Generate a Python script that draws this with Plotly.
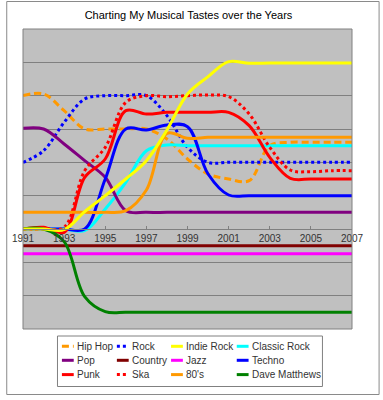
import plotly.graph_objects as go

# ---------------- data ----------------
years = [1991, 1992, 1993, 1994, 1995, 1996, 1997, 1998, 1999,
         2000, 2001, 2002, 2003, 2004, 2005, 2006, 2007]
tick_years = [1991, 1993, 1995, 1997, 1999, 2001, 2003, 2005, 2007]
tick_labels = ["1991", "1993", "1995", "1997", "1999", "2001", "2003", "2005", "2007"]

hip_hop = [4.0, 4.05, 3.55, 3.0, 3.0, 3.0, 3.0, 2.7, 2.1, 1.65, 1.5, 1.45, 2.5, 2.6, 2.6, 2.6, 2.6]
rock = [2.0, 2.35, 3.2, 3.9, 4.0, 4.0, 4.0, 3.4, 2.45, 2.0, 2.0, 2.0, 2.0, 2.0, 2.0, 2.0, 2.0]
indie_rock = [0.0, 0.0, -0.02, 0.52, 1.0, 1.5, 2.05, 2.97, 4.05, 4.57, 5.02, 4.97, 4.98, 4.98, 4.98, 4.98, 4.98]
classic_rock = [0.0, 0.0, 0.0, -0.05, 0.6, 1.4, 2.35, 2.52, 2.5, 2.5, 2.5, 2.5, 2.5, 2.5, 2.5, 2.5, 2.5]
pop = [3.02, 3.0, 2.55, 2.05, 1.55, 0.55, 0.5, 0.5, 0.5, 0.5, 0.5, 0.5, 0.5, 0.5, 0.5, 0.5, 0.5]
country = [-0.5, -0.5, -0.5, -0.5, -0.5, -0.5, -0.5, -0.5, -0.5, -0.5, -0.5, -0.5, -0.5, -0.5, -0.5, -0.5, -0.5]
jazz = [-0.74, -0.74, -0.74, -0.74, -0.74, -0.74, -0.74, -0.74, -0.74, -0.74, -0.74, -0.74, -0.74, -0.74, -0.74, -0.74, -0.74]
techno = [0.0, 0.0, 0.0, 0.0, 1.5, 3.0, 2.97, 3.12, 3.07, 1.65, 1.02, 1.0, 1.0, 1.0, 1.0, 1.0, 1.0]
punk = [0.0, 0.05, -0.1, 1.55, 2.1, 3.55, 3.45, 3.5, 3.5, 3.5, 3.5, 3.1, 2.15, 1.52, 1.5, 1.5, 1.5]
ska = [0.0, 0.0, 0.05, 1.75, 2.45, 3.8, 4.0, 3.97, 4.0, 4.02, 3.97, 3.45, 2.45, 1.77, 1.72, 1.75, 1.75]
eighties = [0.5, 0.5, 0.5, 0.5, 0.5, 0.55, 1.17, 2.87, 2.72, 2.75, 2.75, 2.75, 2.75, 2.75, 2.75, 2.75, 2.75]
dave_matthews = [0.0, 0.0, -0.38, -2.03, -2.48, -2.5, -2.5, -2.5, -2.5, -2.5, -2.5, -2.5, -2.5, -2.5, -2.5, -2.5, -2.5]

series_names = ["Hip Hop", "Rock", "Indie Rock", "Classic Rock",
                "Pop", "Country", "Jazz", "Techno",
                "Punk", "Ska", "80's", "Dave Matthews"]
series_values = [hip_hop, rock, indie_rock, classic_rock,
                 pop, country, jazz, techno,
                 punk, ska, eighties, dave_matthews]

# ---------------- styles ----------------
colors = ["#FF9900", "#0000FF", "#FFFF00", "#00FFFF",
          "#800080", "#800000", "#FF00FF", "#0000FF",
          "#FF0000", "#FF0000", "#FF9900", "#008000"]
dashes = ["7px,4px", "dot", "solid", "solid",
          "solid", "solid", "solid", "solid",
          "solid", "dot", "solid", "solid"]
draw_order = [0, 1, 3, 4, 5, 6, 7, 8, 9, 10, 11, 2]

W, H = 383, 400
L, R, T, B = 18, 31, 29, 71
PW = W - L - R
PH = H - T - B
FONT = "Arial, 'Liberation Sans', sans-serif"


def px(x):
    return (x - L) / PW


def py(y):
    return (H - B - y) / PH


fig = go.Figure()
for i in draw_order:
    fig.add_trace(go.Scatter(
        x=years, y=series_values[i], name=series_names[i], mode="lines",
        line=dict(color=colors[i], width=3, dash=dashes[i], shape="spline", smoothing=1),
        showlegend=False, hoverinfo="x+y+name"))

shapes = []
annotations = []
# plot area border
shapes.append(dict(type="rect", xref="paper", yref="paper", x0=0, x1=1, y0=0, y1=1,
                   line=dict(color="#808080", width=1), layer="above"))
# outer chart border
shapes.append(dict(type="rect", xref="paper", yref="paper",
                   x0=px(1.5), x1=px(379.5), y0=py(394.5), y1=py(1.5),
                   line=dict(color="#8a8a8a", width=1)))
# legend box
shapes.append(dict(type="rect", xref="paper", yref="paper",
                   x0=px(53), x1=px(322), y0=py(386.5), y1=py(336),
                   line=dict(color="#808080", width=1), fillcolor="white"))

col_x = [57.5, 113.3, 168.3, 235.0]
row_y = [346.3, 360.3, 374.6]
for i, name in enumerate(series_names):
    r, c = divmod(i, 4)
    x0 = col_x[c]
    y0 = row_y[r]
    shapes.append(dict(type="line", xref="paper", yref="paper",
                       x0=px(x0), x1=px(x0 + 12), y0=py(y0), y1=py(y0),
                       line=dict(color=colors[i], width=3, dash=dashes[i])))
    annotations.append(dict(xref="paper", yref="paper", x=px(x0 + 13), y=py(y0),
                            xanchor="left", yanchor="middle", showarrow=False,
                            text=name, font=dict(family=FONT, size=10, color="#333333")))

fig.update_layout(
    width=W, height=H,
    margin=dict(l=L, r=R, t=T, b=B),
    paper_bgcolor="white", plot_bgcolor="#C0C0C0",
    showlegend=False,
    title=dict(text="Charting My Musical Tastes over the Years",
               x=188.5 / W, xref="container", xanchor="center",
               y=1 - 15 / H, yref="container", yanchor="middle",
               font=dict(family=FONT, size=11, color="black")),
    xaxis=dict(range=[1991, 2007], tickmode="array", tickvals=tick_years, ticktext=tick_labels,
               anchor="free", position=1 / 3, showgrid=False, zeroline=False,
               showline=True, linecolor="#808080", linewidth=1,
               ticks="inside", ticklen=3, tickcolor="#808080",
               tickfont=dict(family=FONT, size=10, color="#333333")),
    yaxis=dict(range=[-3, 6], tick0=0, dtick=1, showticklabels=False,
               showgrid=True, gridcolor="#808080", gridwidth=1,
               zeroline=False, showline=False, ticks=""),
    shapes=shapes, annotations=annotations,
)

fig.write_html("out.html", config={"displayModeBar": False},
               post_script="document.body.style.margin='0';document.body.style.padding='0';")
